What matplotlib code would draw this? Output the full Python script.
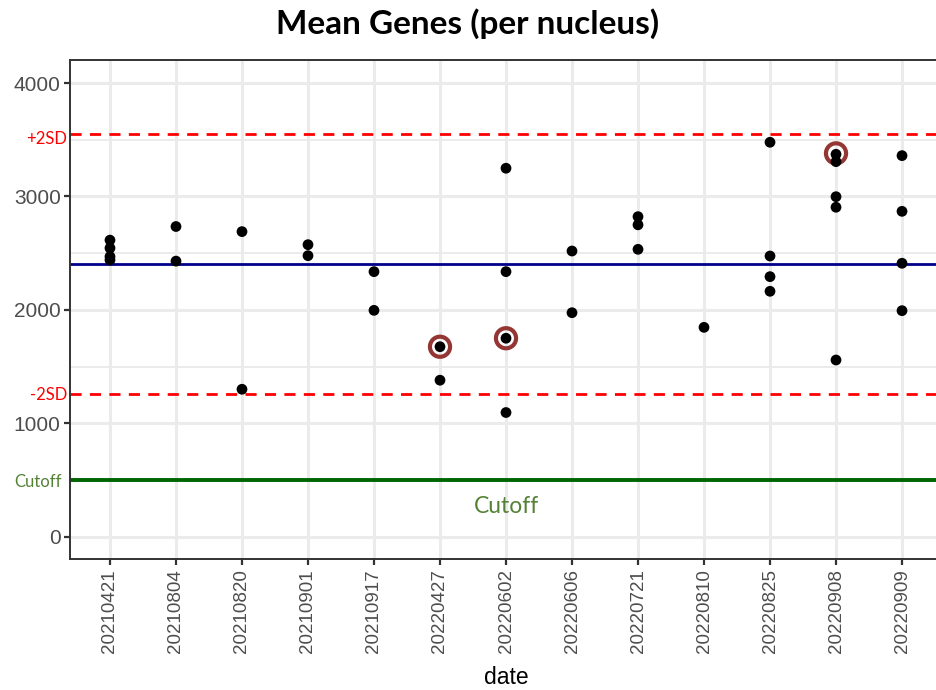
import matplotlib.pyplot as plt
import numpy as np

# Dates (categorical x) and the per-sample mean genes values
dates = ['20210421', '20210804', '20210820', '20210901', '20210917', '20220427',
         '20220602', '20220606', '20220721', '20220810', '20220825', '20220908',
         '20220909']

sample_date = ['20210421', '20210421', '20210421', '20210421',
               '20210804', '20210804',
               '20210820', '20210820',
               '20210901', '20210901',
               '20210917', '20210917',
               '20220427', '20220427',
               '20220602', '20220602', '20220602', '20220602',
               '20220606', '20220606',
               '20220721', '20220721', '20220721',
               '20220810',
               '20220825', '20220825', '20220825', '20220825',
               '20220908', '20220908', '20220908', '20220908', '20220908',
               '20220909', '20220909', '20220909', '20220909']
mean_genes = [2615, 2545, 2470, 2440,
              2735, 2430,
              2690, 1300,
              2575, 2478,
              2337, 1996,
              1675, 1380,
              3249, 2337, 1750, 1095,
              2519, 1975,
              2822, 2750, 2534,
              1846,
              3478, 2475, 2293, 2164,
              3372, 3307, 2998, 2905, 1558,
              3360, 2869, 2411, 1993]

# flagged samples (ringed)
flag_date = ['20220427', '20220602', '20220908']
flag_value = [1675, 1750, 3380]

mean_line = 2405
plus_2sd = 3551
minus_2sd = 1258
cutoff = 500

x_pos = [dates.index(d) for d in sample_date]
flag_x = [dates.index(d) for d in flag_date]

fig = plt.figure(figsize=(9.36, 6.9), dpi=100)
ax = fig.add_axes([0.0752, 0.1893, 0.9308, 0.7232])

# grid
ax.set_xlim(-0.6, 12.6)
ax.set_ylim(-200, 4200)
ax.set_yticks([0, 1000, 2000, 3000, 4000])
ax.set_yticks([500, 1500, 2500, 3500], minor=True)
ax.set_xticks(range(len(dates)))
ax.set_xticklabels(dates, rotation=90)
ax.grid(True, which='major', color='#EBEBEB', linewidth=2.2, zorder=0)
ax.grid(True, which='minor', axis='y', color='#EBEBEB', linewidth=1.4, zorder=0)
ax.tick_params(which='minor', length=0)
ax.tick_params(which='major', length=4, width=1.6, color='#333333',
               labelcolor='#4D4D4D', pad=3)
ax.tick_params(axis='y', labelsize=15)
ax.tick_params(axis='x', labelsize=13.5, pad=3)
for lab in ax.get_xticklabels() + ax.get_yticklabels():
    lab.set_family('Liberation Sans')
for s in ax.spines.values():
    s.set_color('#333333')
    s.set_linewidth(1.4)

# reference lines
l1 = ax.axhline(plus_2sd, color='#FF0000', linewidth=2.0, zorder=2)
l1.set_dashes((4.0, 3.0))
l2 = ax.axhline(minus_2sd, color='#FF0000', linewidth=2.0, zorder=2)
l2.set_dashes((4.0, 3.0))
ax.axhline(mean_line, color='#00008B', linewidth=2.0, zorder=2)
ax.axhline(cutoff, color='#006400', linewidth=2.8, zorder=2)

# points
ax.scatter(flag_x, flag_value, s=210, facecolors='none', edgecolors='#943634',
           linewidths=3.0, zorder=3)
ax.scatter(x_pos, mean_genes, s=60, color='black', edgecolors='none', zorder=4)

# labels
ax.set_xlabel('date', fontsize=16.5, family='Liberation Sans', labelpad=9)
fig.text(0.5, 0.966, 'Mean Genes (per nucleus)', ha='center', va='center',
         fontsize=24, fontweight='bold', family='Lato')

trans = ax.get_yaxis_transform()
ax.text(-0.004, plus_2sd - 40, '+2SD', color='#FF0000', fontsize=12,
        family='Lato', ha='right', va='center', transform=trans, clip_on=False)
ax.text(-0.004, minus_2sd - 10, '-2SD', color='#FF0000', fontsize=12,
        family='Lato', ha='right', va='center', transform=trans, clip_on=False)
ax.text(-0.01, cutoff - 20, 'Cutoff', color='#548235', fontsize=12,
        family='Lato', ha='right', va='center', transform=trans, clip_on=False)
ax.text(6, 270, 'Cutoff', color='#548235', fontsize=16.5, family='Lato',
        ha='center', va='center')

fig.savefig('out.png', dpi=100)
